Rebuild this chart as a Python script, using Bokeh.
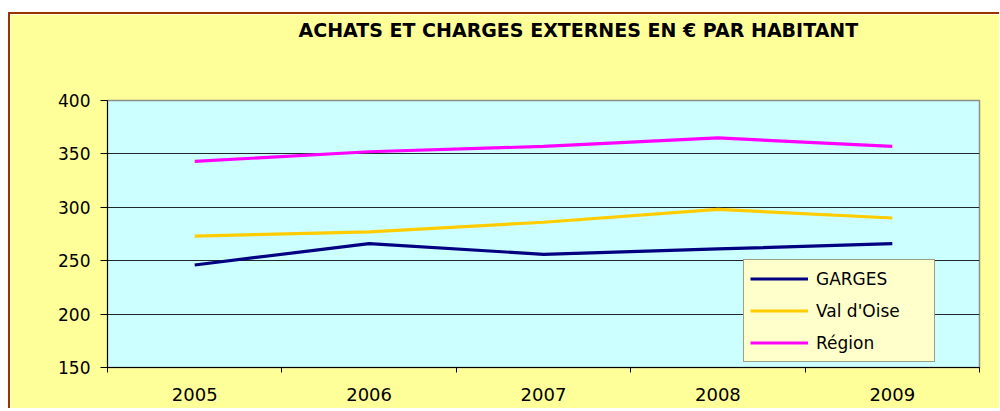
from bokeh.plotting import figure
from bokeh.models import FixedTicker, Legend, LegendItem, Title, Range1d
from bokeh.embed import file_html
from bokeh.resources import INLINE

title_text = "ACHATS ET CHARGES EXTERNES EN € PAR HABITANT"
years = [2005, 2006, 2007, 2008, 2009]
garges = [246, 266, 256, 261, 266]
val_doise = [273, 277, 286, 298, 290]
region = [343, 352, 357, 365, 357]
series_names = ["GARGES", "Val d'Oise", "Région"]
y_ticks = [150, 200, 250, 300, 350, 400]

FONT = "DejaVu Sans"

p = figure(
    frame_width=872, frame_height=267,
    min_border_left=97, min_border_right=20,
    min_border_top=86, min_border_bottom=41,
    x_range=Range1d(years[0] - 0.5, years[-1] + 0.5),
    y_range=Range1d(y_ticks[0], y_ticks[-1]),
    output_backend="svg", toolbar_location=None,
    background_fill_color="#CCFFFF",
    border_fill_color="#FFFF99",
    title=None,
)
p.styles = {"margin-top": "12px", "margin-left": "8px",
            "border-top": "2px solid #993300",
            "border-left": "2px solid #993300", "margin-bottom": "-40px"}

p.outline_line_color = "#8C8C8C"
p.outline_line_width = 1.5

# x axis: labels at the years, small ticks between categories
p.xaxis.ticker = FixedTicker(ticks=years,
                             minor_ticks=[y - 0.5 for y in years] + [years[-1] + 0.5])
p.xaxis.major_tick_out = 0
p.xaxis.major_tick_in = 0
p.xaxis.minor_tick_out = 5
p.xaxis.minor_tick_in = 0
p.xaxis.minor_tick_line_color = "black"
p.xaxis.axis_line_color = "black"
p.xaxis.major_label_text_font = FONT
p.xaxis.major_label_text_font_size = "18px"
p.xaxis.major_label_text_color = "black"
p.xaxis.major_label_standoff = 15
p.xgrid.visible = False

p.yaxis.ticker = FixedTicker(ticks=y_ticks, minor_ticks=[])
p.yaxis.major_tick_out = 7
p.yaxis.major_tick_in = 0
p.yaxis.major_tick_line_color = "black"
p.yaxis.axis_line_color = "black"
p.yaxis.major_label_text_font = FONT
p.yaxis.major_label_text_font_size = "17px"
p.yaxis.major_label_text_color = "black"
p.yaxis.major_label_standoff = 10
p.ygrid.grid_line_color = "#1E2828"
p.ygrid.grid_line_width = 1

colors = ["#000080", "#FFCC00", "#FF00FF"]
renderers = []
for vals, col in zip([garges, val_doise, region], colors):
    r = p.line(years, vals, line_color=col, line_width=3.2)
    renderers.append(r)

legend = Legend(
    items=[LegendItem(label=n, renderers=[r]) for n, r in zip(series_names, renderers)],
    location=(636, 5),
    background_fill_color="#FFFFCC", background_fill_alpha=1.0,
    border_line_color="#404040", border_line_width=1,
    padding=6, spacing=7, margin=0,
    glyph_height=25, glyph_width=58, label_standoff=8, label_width=112,
    label_text_font=FONT, label_text_font_size="17px", label_text_color="black",
)
p.add_layout(legend, "center")

spacer = Title(text=" ", standoff=55, text_font_size="1px", text_color="#FFFF99")
p.add_layout(spacer, "above")
title = Title(text=title_text, align="left", offset=191, standoff=0,
              vertical_align="top",
              text_font=FONT, text_font_size="19px", text_font_style="bold",
              text_color="black")
p.add_layout(title, "above")

open("out.html", "w").write(file_html(p, INLINE))
